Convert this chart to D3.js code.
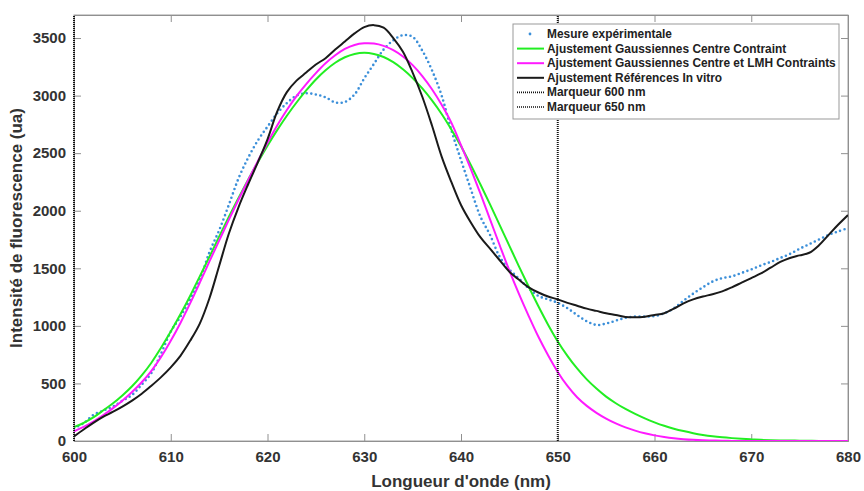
<!DOCTYPE html>
<html><head><meta charset="utf-8">
<script src="https://cdn.jsdelivr.net/npm/d3@7/dist/d3.min.js"></script>
<style>
body{margin:0;background:#fff}
text{font-family:"Liberation Sans",Arial,sans-serif;font-weight:bold}
</style></head>
<body><svg id="chart" width="864" height="491"></svg>
<script>
// ---------- DATA ----------
const wavelengths = [600,601,602,603,604,605,606,607,608,609,610,611,612,613,614,615,616,617,618,619,620,
  621,622,623,624,625,626,627,628,629,630,631,632,633,634,635,636,637,638,639,640,
  641,642,643,644,645,646,647,648,649,650,651,652,653,654,655,656,657,658,659,660,
  661,662,663,664,665,666,667,668,669,670,671,672,673,674,675,676,677,678,679,680];

const mesure = [110,155,226,263,298,350,400,490,590,760,950,1080,1230,1400,1640,1830,2050,2280,2460,2610,2730,
  2845,2935,3000,3020,3010,2985,2940,2945,3010,3150,3275,3400,3480,3525,3510,3390,3220,3000,2700,2440,
  2190,1950,1790,1600,1490,1410,1325,1260,1230,1200,1153,1094,1040,1008,1020,1045,1070,1080,1080,1085,
  1109,1152,1218,1280,1335,1385,1415,1430,1460,1490,1525,1555,1590,1625,1670,1710,1750,1790,1820,1850];

const gaussCentre = [120,158,205,265,325,395,475,570,680,810,950,1100,1260,1430,1600,1775,1945,2110,2270,2420,2565,
  2700,2825,2940,3045,3140,3220,3285,3333,3362,3372,3362,3335,3290,3228,3152,3062,2958,2840,2706,2560,
  2400,2230,2055,1875,1695,1515,1340,1170,1010,865,740,630,535,455,385,328,278,235,196,162,
  132,107,86,68,53,41,32,25,19,14,10,7,5,4,3,2,1,1,0,0];

const gaussCentreLMH = [85,122,168,222,283,350,425,510,610,730,870,1025,1195,1375,1560,1740,1920,2095,2265,2430,2590,
  2740,2875,2995,3100,3195,3280,3350,3405,3440,3454,3452,3432,3395,3340,3265,3170,3055,2920,2765,2570,
  2365,2150,1925,1700,1480,1275,1085,905,745,600,478,380,305,245,195,153,118,90,67,49,
  35,24,16,10,6,4,2,1,0,0,0,0,0,0,0,0,0,0,0,0];

const refInVitro = [40,100,158,210,252,298,350,410,480,555,640,740,870,1020,1240,1520,1800,2030,2230,2420,2620,
  2860,3030,3130,3200,3270,3325,3400,3470,3540,3595,3612,3590,3500,3380,3200,2990,2740,2470,2250,2050,
  1900,1770,1670,1570,1470,1400,1335,1290,1255,1230,1200,1175,1150,1130,1110,1095,1078,1074,1080,1095,
  1110,1150,1195,1230,1255,1275,1300,1335,1375,1415,1455,1505,1555,1590,1612,1635,1700,1790,1880,1963];

const markerPositions = [600, 650];
const xTicks = [600,610,620,630,640,650,660,670,680];
const yTicks = [0,500,1000,1500,2000,2500,3000,3500];
const legendLabels = ["Mesure expérimentale","Ajustement Gaussiennes Centre Contraint",
  "Ajustement Gaussiennes Centre et LMH Contraints","Ajustement Références In vitro",
  "Marqueur 600 nm","Marqueur 650 nm"];

// ---------- LAYOUT ----------
const svg = d3.select("#chart");
const L = 74, R = 848, T = 15, B = 441;
const x = d3.scaleLinear().domain([600,680]).range([L,R]);
const y = d3.scaleLinear().domain([0,3700]).range([B,T]);

svg.append("defs").append("clipPath").attr("id","clip")
  .append("rect").attr("x",L).attr("y",T).attr("width",R-L).attr("height",B-T);

// frame
svg.append("rect").attr("x",L).attr("y",T).attr("width",R-L).attr("height",B-T)
  .attr("fill","#fff").attr("stroke","#a0a0a0").attr("stroke-width",1);

// axes (ticks inward)
const axColor = "#909090";
const gx = svg.append("g").attr("transform",`translate(0,${B})`)
  .call(d3.axisBottom(x).tickValues(xTicks).tickSize(-7).tickPadding(10).tickFormat(d3.format("d")));
const gxTop = svg.append("g").attr("transform",`translate(0,${T})`)
  .call(d3.axisTop(x).tickValues(xTicks).tickSize(-7).tickFormat(""));
const gy = svg.append("g").attr("transform",`translate(${L},0)`)
  .call(d3.axisLeft(y).tickValues(yTicks).tickSize(-7).tickPadding(8).tickFormat(d3.format("d")));
const gyR = svg.append("g").attr("transform",`translate(${R},0)`)
  .call(d3.axisRight(y).tickValues(yTicks).tickSize(-7).tickFormat(""));
[gx,gxTop,gy,gyR].forEach(g=>{
  g.select(".domain").attr("stroke",axColor);
  g.selectAll(".tick line").attr("stroke",axColor);
  g.selectAll("text").attr("fill","#333").attr("font-size",15).attr("font-weight","bold")
   .attr("font-family","'Liberation Sans',Arial,sans-serif");
});

// axis titles
svg.append("text").attr("x",(L+R)/2).attr("y",487).attr("text-anchor","middle")
  .attr("font-size",17).attr("fill","#333").text("Longueur d'onde (nm)");
svg.append("text").attr("transform",`translate(22,${(T+B)/2}) rotate(-90)`).attr("text-anchor","middle")
  .attr("font-size",17).attr("fill","#333").text("Intensité de fluorescence (ua)");

const plot = svg.append("g").attr("clip-path","url(#clip)");
const line = vals => d3.line().curve(d3.curveCatmullRom.alpha(0.5))
  .x((d,i)=>x(wavelengths[i])).y(d=>y(d))(vals);

// experimental (dotted markers)
plot.append("path").attr("d",line(mesure)).attr("fill","none")
  .attr("stroke","#3b8fd9").attr("stroke-width",2.6).attr("stroke-linecap","round")
  .attr("stroke-dasharray","0 4.6");
plot.append("path").attr("d",line(gaussCentre)).attr("fill","none")
  .attr("stroke","#22ee22").attr("stroke-width",2);
plot.append("path").attr("d",line(gaussCentreLMH)).attr("fill","none")
  .attr("stroke","#ff1aff").attr("stroke-width",2);
plot.append("path").attr("d",line(refInVitro)).attr("fill","none")
  .attr("stroke","#1a1a1a").attr("stroke-width",2);

// markers
markerPositions.forEach(m=>{
  svg.append("line").attr("x1",x(m)).attr("x2",x(m)).attr("y1",B).attr("y2",T)
    .attr("stroke","#111").attr("stroke-width",2).attr("stroke-dasharray","1 1");
});

// legend
const lg = svg.append("g");
lg.append("rect").attr("x",513).attr("y",24).attr("width",326).attr("height",95)
  .attr("fill","#fff").attr("stroke","#999").attr("stroke-width",1);
const styles = [
  {c:"#3b8fd9", dot:true},
  {c:"#22ee22"},{c:"#ff1aff"},{c:"#1a1a1a"},
  {c:"#111", dash:"1 1"},{c:"#111", dash:"1 1"}
];
legendLabels.forEach((lab,i)=>{
  const yy = 34 + i*14.6;
  const s = styles[i];
  if (s.dot) {
    lg.append("circle").attr("cx",530).attr("cy",yy).attr("r",1.4).attr("fill",s.c);
  } else {
    lg.append("line").attr("x1",517).attr("x2",544).attr("y1",yy).attr("y2",yy)
      .attr("stroke",s.c).attr("stroke-width",s.dash?1.6:2)
      .attr("stroke-dasharray",s.dash||null);
  }
  lg.append("text").attr("x",547).attr("y",yy+4).attr("font-size",11.9).attr("fill","#222").text(lab);
});
</script></body></html>
